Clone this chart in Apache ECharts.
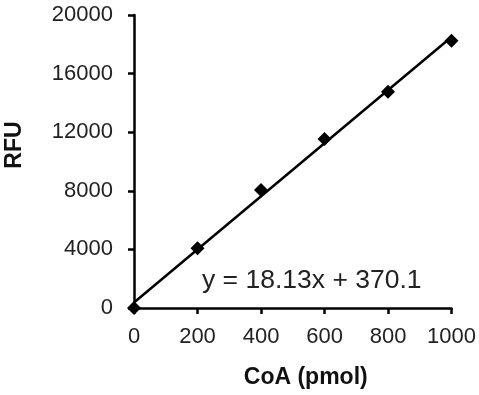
<!DOCTYPE html>
<html>
<head>
<meta charset="utf-8">
<style>
  html, body { margin: 0; padding: 0; background: #fff; }
  #chart { width: 479px; height: 395px; }
</style>
<script src="https://cdn.jsdelivr.net/npm/echarts@6/dist/echarts.min.js"></script>
</head>
<body>
<div id="chart"></div>
<script>
// standard curve data
const coa = [0, 200, 400, 600, 800, 1000];
const rfu = [0, 4080, 8050, 11540, 14760, 18250];
const xTicks = [0, 200, 400, 600, 800, 1000];
const yTicks = [0, 4000, 8000, 12000, 16000, 20000];
// fitted line as printed on the chart
const slope = 18.13;
const intercept = 370.1;
const equation = 'y = 18.13x + 370.1';

const chart = echarts.init(document.getElementById('chart'));
const font = '"Liberation Sans", Arial, sans-serif';
const ink = '#000';
const plain = v => String(v);

const trend = [coa[0], coa[coa.length - 1]].map(x => [x, slope * x + intercept]);

chart.setOption({
    animation: false,
    grid: { left: 134, right: 27, top: 15, bottom: 87 },
    xAxis: {
        type: 'value',
        min: xTicks[0],
        max: xTicks[xTicks.length - 1],
        interval: 200,
        name: 'CoA (pmol)',
        nameLocation: 'middle',
        nameGap: 58,
        nameTextStyle: { fontFamily: font, fontSize: 23, fontWeight: 'bold', color: '#111', padding: [0, 0, 0, 26] },
        axisLine: { lineStyle: { color: ink, width: 2.5 } },
        axisTick: { length: 6, lineStyle: { color: ink, width: 2.5 } },
        axisLabel: { fontFamily: font, fontSize: 22, color: '#222', margin: 18, formatter: plain },
        splitLine: { show: false }
    },
    yAxis: {
        type: 'value',
        min: yTicks[0],
        max: yTicks[yTicks.length - 1],
        interval: 4000,
        axisLine: { show: true, lineStyle: { color: ink, width: 2.5 } },
        axisTick: { show: true, length: 6, lineStyle: { color: ink, width: 2.5 } },
        axisLabel: { fontFamily: font, fontSize: 22, color: '#222', margin: 21, formatter: plain },
        splitLine: { show: false }
    },
    graphic: [
        {
            type: 'text',
            x: 15, y: 145,
            rotation: Math.PI / 2,
            style: {
                text: 'RFU', fontFamily: font, fontSize: 23, fontWeight: 'bold',
                fill: '#111', align: 'center', verticalAlign: 'middle'
            }
        },
        {
            type: 'text',
            x: 202, y: 281,
            style: {
                text: equation, fontFamily: font, fontSize: 26.5,
                fill: '#222', align: 'left', verticalAlign: 'middle'
            }
        }
    ],
    series: [
        {
            type: 'line',
            data: trend,
            symbol: 'none',
            lineStyle: { color: ink, width: 2.5 },
            z: 2
        },
        {
            type: 'scatter',
            data: coa.map((x, i) => [x, rfu[i]]),
            symbol: 'diamond',
            symbolSize: [14, 14],
            itemStyle: { color: ink, opacity: 1 },
            z: 3
        }
    ]
});
</script>
</body>
</html>
